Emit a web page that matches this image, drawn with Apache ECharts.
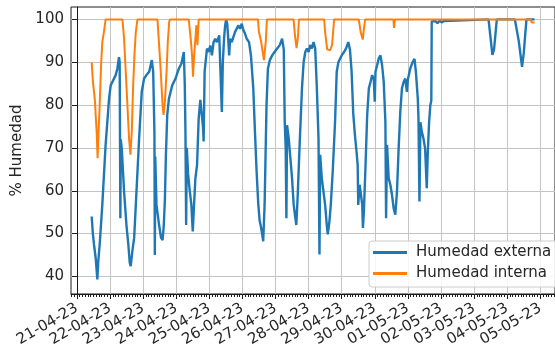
<!DOCTYPE html>
<html>
<head>
<meta charset="utf-8">
<script src="https://cdn.jsdelivr.net/npm/echarts@6.0.0/dist/echarts.min.js"></script>
<style>
html, body { margin: 0; padding: 0; background: #fff; }
#chart { width: 555px; height: 351px; }
</style>
</head>
<body>
<div id="chart"></div>
<script>
// time is in hours since 21-04-23 00:00
var extHours = [10.7, 11.6, 12.4, 13.6, 14.8, 15.5, 16.5, 18.4, 20.8, 23.3, 24.5, 25.7, 27.0, 28.1, 29.3, 30.5, 31.0, 31.5, 31.8, 32.5,
    34.2, 35.9, 37.3, 38.3, 39.0, 40.2, 41.5, 42.7, 45.1, 47.0, 48.7, 50.4, 52.4, 54.3, 55.3, 56.2, 56.5, 56.8, 57.7, 59.6,
    61.0, 62.1, 63.0, 63.8, 64.5, 65.5, 66.7, 69.1, 71.5, 73.9, 75.8, 77.5, 78.2, 78.7, 79.2, 79.7, 80.6, 81.6, 83.0, 84.0,
    84.7, 85.9, 87.1, 88.3, 89.5, 90.7, 91.4, 91.9, 92.6, 94.3, 95.5, 96.7, 97.9, 99.1, 100.3, 101.5, 103.2, 104.6, 105.1, 105.8,
    106.8, 107.5, 108.2, 109.0, 109.4, 110.4, 111.1, 112.3, 113.5, 114.7, 115.9, 117.1, 118.3, 119.5, 120.7, 121.9, 123.1, 124.8, 126.2, 127.9,
    129.1, 130.3, 131.5, 132.5, 133.2, 134.4, 135.1, 136.1, 136.8, 137.5, 138.5, 139.9, 141.6, 143.3, 145.2, 147.1, 148.8, 150.0, 150.7, 151.4,
    151.9, 152.4, 153.6, 154.8, 156.0, 157.2, 158.4, 159.1, 160.1, 161.5, 163.2, 164.4, 165.6, 166.8, 168.0, 169.2, 170.4, 171.6, 172.8, 174.0,
    175.2, 175.9, 176.4, 177.6, 178.8, 180.0, 181.2, 181.9, 183.1, 184.1, 185.5, 187.2, 188.4, 189.6, 190.8, 192.0, 193.7, 195.1, 196.8, 198.0,
    199.2, 200.4, 201.6, 202.8, 203.6, 204.0, 205.0, 205.7, 206.9, 207.4, 208.1, 209.3, 210.5, 211.7, 212.9, 214.1, 215.3, 216.0, 216.5, 217.7,
    218.9, 220.1, 221.3, 222.5, 223.7, 224.2, 224.9, 226.1, 227.3, 228.5, 229.7, 230.9, 232.1, 233.3, 234.5, 235.7, 236.9, 238.1, 239.3, 240.0,
    241.7, 243.4, 244.8, 245.8, 247.2, 247.7, 248.4, 249.1, 250.1, 251.3, 252.5, 253.7, 254.4, 255.4, 256.3, 257.0, 257.3, 258.5, 260.0, 261.5,
    263.0, 264.5, 266.0, 267.4, 298.5, 301.3, 302.5, 304.5, 317.6, 320.4, 322.8, 324.0, 326.0, 331.9];
var extValues = [54.0, 49.8, 47.4, 44.3, 39.3, 43.6, 47.4, 56.7, 70.7, 81.5, 84.6, 85.4, 85.0, 87.0, 88.5, 91.2, 90.0, 53.6, 72.0, 69.9,
    59.8, 52.0, 47.4, 43.2, 42.4, 45.9, 49.0, 56.7, 72.2, 83.1, 86.2, 87.0, 87.8, 90.5, 87.8, 73.8, 45.0, 68.0, 56.7, 52.0,
    49.0, 48.5, 52.0, 58.0, 68.0, 77.7, 81.5, 84.6, 86.2, 88.5, 89.7, 92.4, 85.0, 73.8, 52.0, 70.0, 64.0, 60.6, 56.7, 50.5,
    55.2, 62.9, 66.0, 76.9, 81.2, 81.0, 75.0, 71.5, 87.8, 93.2, 92.4, 93.9, 91.6, 94.7, 95.5, 94.7, 96.3, 96.3, 78.4, 90.0,
    96.0, 98.6, 100, 99.0, 97.1, 91.6, 95.5, 94.7, 95.9, 97.1, 97.4, 98.6, 97.8, 99.0, 97.5, 96.7, 95.5, 94.7, 91.6, 83.9,
    73.8, 64.5, 57.0, 53.0, 52.0, 49.8, 48.2, 56.7, 68.4, 80.0, 88.5, 90.5, 91.6, 92.4, 93.2, 94.0, 95.5, 93.0, 76.1, 70.0,
    53.6, 75.3, 72.2, 67.6, 62.9, 56.7, 53.6, 52.0, 58.8, 70.7, 83.9, 90.0, 92.4, 93.2, 92.4, 94.0, 93.2, 94.7, 93.2, 83.9,
    72.2, 45.1, 68.4, 62.9, 59.8, 56.7, 52.0, 49.8, 52.8, 56.7, 64.5, 76.1, 87.8, 90.0, 90.8, 91.6, 92.4, 93.2, 94.7, 93.0,
    87.8, 78.0, 73.0, 69.0, 66.0, 56.7, 61.4, 59.8, 56.7, 51.3, 55.2, 66.0, 77.7, 83.9, 85.4, 87.0, 86.0, 80.8, 87.8, 89.3,
    90.9, 91.6, 89.3, 85.4, 76.1, 53.6, 70.7, 62.9, 61.4, 59.0, 55.9, 54.4, 59.8, 69.9, 78.4, 83.9, 85.4, 86.2, 83.1, 86.0,
    88.5, 90.0, 90.8, 87.8, 81.5, 76.9, 57.5, 76.0, 73.8, 72.2, 69.9, 60.6, 68.4, 76.1, 80.0, 81.0, 99.5, 99.2, 99.6, 99.1,
    99.7, 99.3, 99.6, 100, 100, 91.7, 93.0, 100, 100, 95.0, 88.9, 92.0, 100, 100];

var intHours = [10.7, 11.6, 12.4, 13.1, 13.6, 14.3, 15.0, 15.5, 16.5, 17.5, 18.4, 19.6, 20.8, 33.0, 34.2, 35.4, 36.6, 37.8, 38.8, 39.8,
    40.7, 41.7, 42.7, 43.9, 58.4, 59.6, 60.8, 62.1, 62.8, 63.8, 65.0, 65.9, 66.9, 67.4, 81.1, 82.5, 83.5, 84.2, 85.0, 85.9,
    86.6, 87.4, 88.3, 131.3, 132.0, 133.5, 134.9, 135.6, 137.0, 137.8, 157.1, 158.2, 159.3, 160.3, 161.0, 179.3, 180.0, 181.5, 183.6, 185.0,
    185.8, 186.5, 204.4, 205.8, 207.3, 208.0, 209.0, 229.5, 230.0, 230.5, 329.0, 329.8, 331.9];
var intValues = [90.0, 85.4, 83.1, 80.8, 77.7, 73.8, 67.6, 72.2, 80.0, 89.3, 94.7, 97.1, 100, 100, 95.5, 87.8, 80.0, 72.2, 68.4, 73.8,
    83.9, 91.6, 97.1, 100, 100, 94.0, 87.8, 80.0, 77.7, 80.8, 87.8, 94.7, 99.4, 100, 100, 95.5, 91.6, 86.6, 91.6, 95.5,
    98.6, 94.0, 100, 100, 97.0, 95.0, 92.0, 90.5, 95.0, 100, 100, 96.0, 93.3, 96.0, 100, 100, 97.0, 93.0, 92.8, 94.0,
    97.0, 100, 100, 97.0, 95.3, 97.5, 100, 100, 98.0, 100, 100, 99.3, 99.3];

var dayLabels = ['21-04-23', '22-04-23', '23-04-23', '24-04-23', '25-04-23', '26-04-23', '27-04-23', '28-04-23',
    '29-04-23', '30-04-23', '01-05-23', '02-05-23', '03-05-23', '04-05-23', '05-05-23'];
var yTicks = [40, 50, 60, 70, 80, 90, 100];

var xMin = -4.3, xMax = 346.7;
var dayTicks = dayLabels.map(function (d, i) { return i * 24 });
var minorTicks = [];
for (var h = -4; h <= xMax; h += 2) minorTicks.push(h);

function pairs(xs, ys) {
    return xs.map(function (x, i) { return [x, ys[i]] });
}

var font = 'DejaVu Sans';
var ink = '#1a1a1a';
var chart = echarts.init(document.getElementById('chart'));
chart.setOption({
    animation: false,
    grid: { left: 71, top: 7, width: 490, height: 287, show: true, borderColor: ink, borderWidth: 1 },
    legend: {
        orient: 'vertical', left: 369, top: 241,
        padding: [4, 24, 6, 4], itemWidth: 34, itemHeight: 3, itemGap: 6, icon: 'rect',
        backgroundColor: 'rgba(255,255,255,0.85)', borderColor: '#cccccc', borderWidth: 1, borderRadius: 3,
        textStyle: { fontSize: 15, fontFamily: font, color: '#262626', lineHeight: 15, padding: [0, 0, 0, 4] },
        data: ['Humedad externa', 'Humedad interna']
    },
    xAxis: [
        {
            type: 'value', min: xMin, max: xMax,
            axisLine: { show: true, onZero: false, lineStyle: { color: ink, width: 1 } },
            axisTick: { show: true, customValues: dayTicks, length: 5, lineStyle: { color: ink } },
            axisLabel: {
                customValues: dayTicks, rotate: 30, margin: 13, fontSize: 15, fontFamily: font, color: '#262626',
                formatter: function (v) { return dayLabels[Math.round(v / 24)] }
            },
            splitLine: { show: true, lineStyle: { color: '#c4c4c4', width: 1 } }
        },
        {
            type: 'value', min: xMin, max: xMax, position: 'bottom',
            axisLine: { show: false },
            axisTick: { show: true, customValues: minorTicks, length: 3, lineStyle: { color: ink } },
            axisLabel: { show: false },
            splitLine: { show: false }
        }
    ],
    yAxis: {
        type: 'value', min: 35.9, max: 102.9,
        name: '% Humedad', nameLocation: 'middle', nameGap: 43,
        nameTextStyle: { fontSize: 15, fontFamily: font, color: '#262626' },
        axisLine: { show: true, lineStyle: { color: ink, width: 1 } },
        axisTick: { show: true, customValues: yTicks, length: 5, lineStyle: { color: ink } },
        axisLabel: { customValues: yTicks, margin: 7, fontSize: 15, fontFamily: font, color: '#262626' },
        splitLine: { show: true, lineStyle: { color: '#c4c4c4', width: 1 } }
    },
    series: [
        {
            name: 'Humedad externa', type: 'line', xAxisIndex: 0, data: pairs(extHours, extValues),
            symbol: 'none', lineStyle: { color: '#1f77b4', width: 2.4 }, itemStyle: { color: '#1f77b4' }
        },
        {
            name: 'Humedad interna', type: 'line', xAxisIndex: 0, data: pairs(intHours, intValues),
            symbol: 'none', lineStyle: { color: '#ff7f0e', width: 2 }, itemStyle: { color: '#ff7f0e' }
        }
    ]
});
</script>
</body>
</html>
